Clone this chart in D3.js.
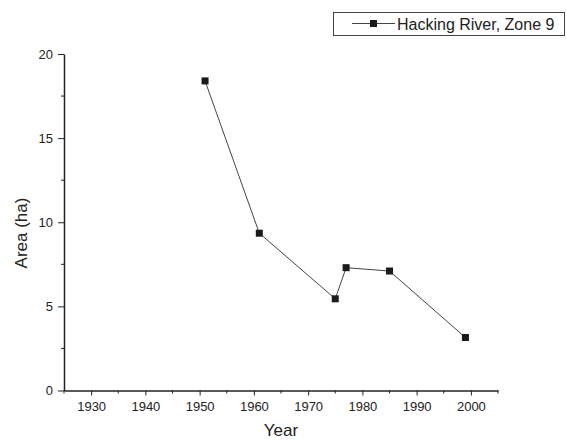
<!DOCTYPE html>
<html>
<head>
<meta charset="utf-8">
<script src="https://cdn.jsdelivr.net/npm/d3@7"></script>
<style>
  body { margin: 0; background: #fff; }
  svg { display: block; font-family: "Liberation Sans", Arial, sans-serif; }
</style>
</head>
<body>
<div id="vizcont"></div>
<script>
// data
var years = [1951, 1961, 1975, 1977, 1985, 1999];
var areas = [18.4, 9.35, 5.45, 7.3, 7.1, 3.15];
var xTicks = [1930, 1940, 1950, 1960, 1970, 1980, 1990, 2000];
var yTicks = [0, 5, 10, 15, 20];
var seriesName = "Hacking River, Zone 9";

var width = 566, height = 440;
var svg = d3.select("#vizcont").append("svg")
    .attr("width", width)
    .attr("height", height);

// scales
var x = d3.scaleLinear().domain([1925, 2005]).range([64, 498]);
var y = d3.scaleLinear().domain([0, 20]).range([390.5, 54]);

// minor ticks
var xMinor = d3.range(1925, 2006, 10);
var yMinor = d3.range(2.5, 20, 5);

svg.append("g")
    .attr("stroke", "#222")
    .attr("stroke-width", 1)
    .selectAll("line.xm")
    .data(xMinor)
    .enter().append("line")
    .attr("x1", function(d) { return x(d); })
    .attr("x2", function(d) { return x(d); })
    .attr("y1", y(0))
    .attr("y2", y(0) + 3);

svg.append("g")
    .attr("stroke", "#222")
    .attr("stroke-width", 1)
    .selectAll("line.ym")
    .data(yMinor)
    .enter().append("line")
    .attr("x1", x(1925) - 3)
    .attr("x2", x(1925))
    .attr("y1", function(d) { return y(d); })
    .attr("y2", function(d) { return y(d); });

// x axis
var xAxis = svg.append("g")
    .attr("transform", "translate(0," + y(0) + ")")
    .call(d3.axisBottom(x).tickValues(xTicks).tickFormat(d3.format("d")).tickSize(5).tickSizeOuter(0));
xAxis.select(".domain").attr("stroke", "#222").attr("stroke-width", 1.5);
xAxis.selectAll(".tick line").attr("stroke", "#222");
xAxis.selectAll(".tick text")
    .attr("dy", "0.71em")
    .attr("y", 11)
    .attr("fill", "#222")
    .style("font-size", "13px");

// y axis
var yAxis = svg.append("g")
    .attr("transform", "translate(" + x(1925) + ",0)")
    .call(d3.axisLeft(y).tickValues(yTicks).tickSize(6).tickSizeOuter(0));
yAxis.select(".domain").attr("stroke", "#222").attr("stroke-width", 1.5);
yAxis.selectAll(".tick line").attr("stroke", "#222");
yAxis.selectAll(".tick text")
    .attr("x", -11)
    .attr("fill", "#222")
    .style("font-size", "13px");

// axis titles
svg.append("text")
    .attr("x", x(1965))
    .attr("y", 436)
    .attr("text-anchor", "middle")
    .attr("fill", "#222")
    .style("font-size", "17px")
    .text("Year");

svg.append("text")
    .attr("transform", "translate(27,233) rotate(-90)")
    .attr("text-anchor", "middle")
    .attr("fill", "#222")
    .style("font-size", "17px")
    .text("Area (ha)");

// series
var data = years.map(function(d, i) { return {year: d, area: areas[i]}; });

var line = d3.line()
    .x(function(d) { return x(d.year); })
    .y(function(d) { return y(d.area); });

svg.append("path")
    .datum(data)
    .attr("fill", "none")
    .attr("stroke", "#444")
    .attr("stroke-width", 1)
    .attr("d", line);

var ms = 7;
svg.selectAll("rect.pt")
    .data(data)
    .enter().append("rect")
    .attr("class", "pt")
    .attr("x", function(d) { return x(d.year) - ms / 2; })
    .attr("y", function(d) { return y(d.area) - ms / 2; })
    .attr("width", ms)
    .attr("height", ms)
    .attr("fill", "#1a1a1a");

// legend
var lg = svg.append("g");
lg.append("rect")
    .attr("x", 333.5)
    .attr("y", 12.5)
    .attr("width", 231)
    .attr("height", 23)
    .attr("fill", "#fff")
    .attr("stroke", "#444")
    .attr("stroke-width", 1);
lg.append("line")
    .attr("x1", 352).attr("x2", 395)
    .attr("y1", 23.5).attr("y2", 23.5)
    .attr("stroke", "#444");
lg.append("rect")
    .attr("x", 373.5 - ms / 2).attr("y", 23.5 - ms / 2)
    .attr("width", ms).attr("height", ms)
    .attr("fill", "#1a1a1a");
lg.append("text")
    .attr("x", 397)
    .attr("y", 29.5)
    .attr("fill", "#222")
    .style("font-size", "16px")
    .text(seriesName);
</script>
</body>
</html>
